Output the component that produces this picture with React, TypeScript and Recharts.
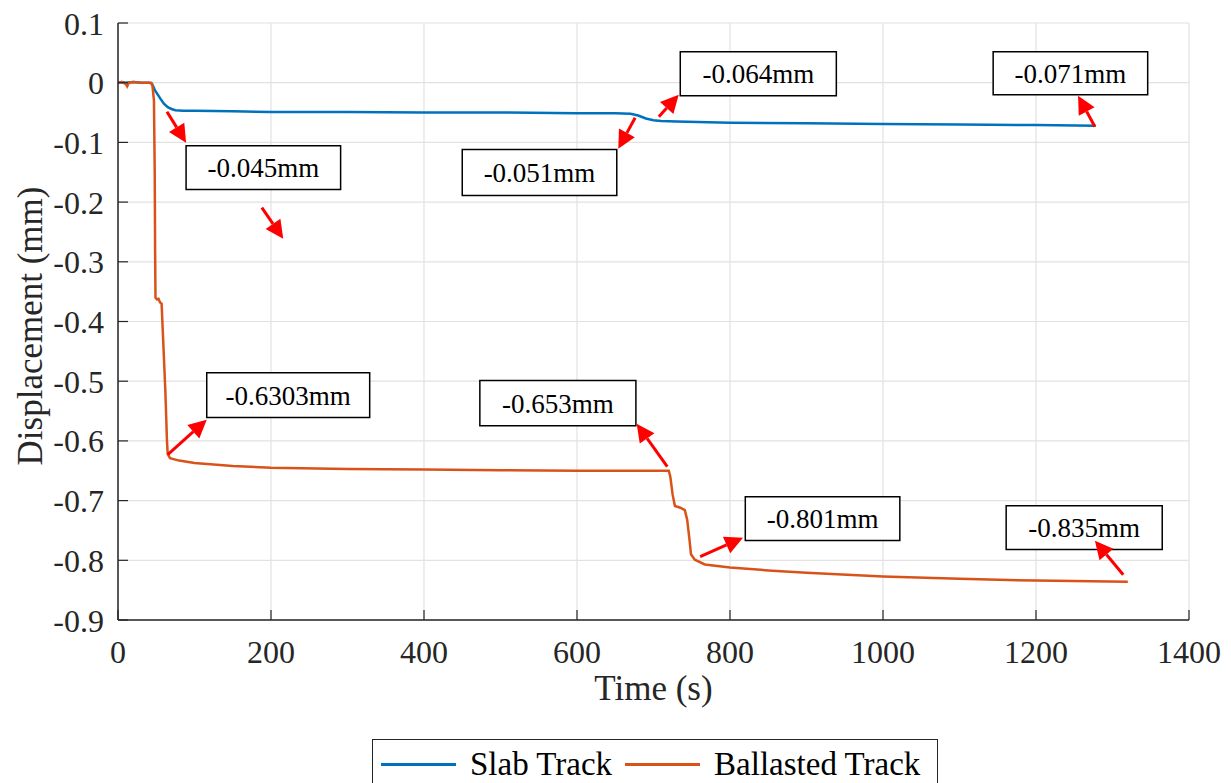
import {
  LineChart,
  Line,
  XAxis,
  YAxis,
  CartesianGrid,
  ReferenceArea,
  ReferenceLine,
  Legend,
} from 'recharts';

// time (s) and vertical displacement (mm)
const slabTime = [0, 5, 10, 20, 30, 40, 44, 46, 48, 52, 56, 60, 65, 70, 75, 85, 100, 150, 200, 300, 400, 500, 600, 650, 670, 680, 690, 700, 710, 730, 800, 900, 1000, 1100, 1200, 1278];
const slabDisp = [0, 0.001, 0, 0.001, 0, 0, -0.001, -0.006, -0.012, -0.02, -0.028, -0.035, -0.041, -0.044, -0.046, -0.047, -0.047, -0.048, -0.049, -0.049, -0.05, -0.05, -0.051, -0.051, -0.052, -0.055, -0.06, -0.063, -0.064, -0.065, -0.067, -0.068, -0.069, -0.07, -0.071, -0.072];

const ballastTime = [0, 5, 10, 12, 14, 20, 30, 43, 45, 47, 48, 48.5, 49, 51, 53, 55, 57, 58, 60, 62, 63, 64, 65, 68, 80, 100, 150, 200, 300, 400, 500, 600, 700, 720, 722, 725, 728, 735, 741, 744, 747, 749, 754, 767, 800, 850, 900, 1000, 1100, 1200, 1320];
const ballastDisp = [0, 0.001, -0.002, -0.006, 0, 0.001, 0, 0, -0.005, -0.03, -0.15, -0.28, -0.36, -0.363, -0.362, -0.368, -0.37, -0.4, -0.46, -0.52, -0.56, -0.6, -0.622, -0.629, -0.633, -0.637, -0.642, -0.645, -0.647, -0.648, -0.649, -0.65, -0.65, -0.65, -0.66, -0.69, -0.709, -0.712, -0.716, -0.732, -0.765, -0.79, -0.799, -0.807, -0.812, -0.817, -0.821, -0.827, -0.831, -0.834, -0.836];

const xTicks = [0, 200, 400, 600, 800, 1000, 1200, 1400];
const yTicks = [-0.9, -0.8, -0.7, -0.6, -0.5, -0.4, -0.3, -0.2, -0.1, 0, 0.1];

// annotation boxes: text, time range, displacement range
const noteText = ['-0.045mm', '-0.051mm', '-0.064mm', '-0.071mm', '-0.6303mm', '-0.653mm', '-0.801mm', '-0.835mm'];
const noteBox = [
  [89, 291, -0.1055, -0.179],
  [450, 652, -0.112, -0.189],
  [735, 939, 0.052, -0.022],
  [1144, 1346, 0.052, -0.02],
  [116, 329, -0.486, -0.561],
  [473, 677, -0.499, -0.5745],
  [820, 1022, -0.6935, -0.767],
  [1161, 1365, -0.7085, -0.782],
];
// arrows: tail (t, v) -> head (t, v)
const arrows = [
  [64, -0.0486, 89, -0.1005],
  [188, -0.2094, 216, -0.2613],
  [676, -0.0586, 654, -0.1106],
  [707, -0.057, 733, -0.0201],
  [1277, -0.0737, 1255, -0.0218],
  [65, -0.6231, 116, -0.5645],
  [718, -0.6432, 678, -0.5712],
  [761, -0.794, 817, -0.7621],
  [1314, -0.8241, 1277, -0.7672],
];

const slabData = slabTime.map((t, i) => ({ t, v: slabDisp[i] }));
const ballastData = ballastTime.map((t, i) => ({ t, v: ballastDisp[i] }));

const FONT = '"Liberation Serif", "Times New Roman", serif';
const AXIS = '#262626';
const fmtY = (v: number) => (Math.abs(v) < 1e-9 ? '0' : v.toFixed(1));

function LeftTick({ x, y, payload }: any) {
  return (
    <g>
      <line x1={x + 14} x2={x + 24} y1={y} y2={y} stroke={AXIS} strokeWidth={1.2} />
      <text x={x} y={y} dy="0.36em" textAnchor="end" fontSize={32} fontFamily={FONT} fill={AXIS}>
        {fmtY(payload.value)}
      </text>
    </g>
  );
}

function BottomTick({ x, y, payload }: any) {
  return (
    <g>
      <line x1={x} x2={x} y1={y - 20} y2={y - 30} stroke={AXIS} strokeWidth={1.2} />
      <text x={x} y={y} dy="0.71em" textAnchor="middle" fontSize={32} fontFamily={FONT} fill={AXIS}>
        {payload.value}
      </text>
    </g>
  );
}

function TopTick({ x, y }: any) {
  return <line x1={x} x2={x} y1={y} y2={y + 10} stroke={AXIS} strokeWidth={1.2} />;
}

function RightTick({ x, y }: any) {
  return <line x1={x} x2={x - 10} y1={y} y2={y} stroke={AXIS} strokeWidth={1.2} />;
}

function Arrow({ x1, y1, x2, y2 }: any) {
  const dx = x2 - x1;
  const dy = y2 - y1;
  const len = Math.hypot(dx, dy) || 1;
  const ux = dx / len;
  const uy = dy / len;
  const hl = 18;
  const hw = 9;
  const bx = x2 - ux * hl;
  const by = y2 - uy * hl;
  return (
    <g>
      <line x1={x1} y1={y1} x2={bx} y2={by} stroke="#ff0000" strokeWidth={3} />
      <polygon points={`${x2},${y2} ${bx - uy * hw},${by + ux * hw} ${bx + uy * hw},${by - ux * hw}`} fill="#ff0000" />
    </g>
  );
}

function renderLegend() {
  const item = (color: string, name: string) => (
    <div style={{ display: 'flex', alignItems: 'center' }}>
      <div style={{ width: 75, height: 0, borderTop: `3px solid ${color}`, marginRight: 14 }} />
      <span style={{ marginRight: 13 }}>{name}</span>
    </div>
  );
  return (
    <div
      style={{
        display: 'flex',
        alignItems: 'center',
        height: 50,
        boxSizing: 'border-box',
        border: `1.5px solid ${AXIS}`,
        background: '#fff',
        paddingLeft: 8,
        fontFamily: FONT,
        fontSize: 33,
        color: '#000',
        whiteSpace: 'nowrap',
      }}
    >
      {item('#0072BD', 'Slab Track')}
      {item('#D95319', 'Ballasted Track')}
    </div>
  );
}

export default function App() {
  return (
    <div style={{ position: 'absolute', left: 0, top: 0, width: 1231, height: 783, background: '#fff', overflow: 'hidden' }}>
      <LineChart width={1231} height={783} margin={{ top: 23, right: 42, bottom: 103, left: 18 }}>
        <CartesianGrid stroke="#e2e2e2" strokeWidth={1.2} horizontalValues={yTicks} verticalValues={xTicks} />
        <XAxis
          dataKey="t"
          type="number"
          domain={[0, 1400]}
          ticks={xTicks}
          allowDataOverflow
          height={60}
          tickSize={0}
          tickMargin={20}
          tickLine={false}
          tick={<BottomTick />}
          axisLine={{ stroke: AXIS, strokeWidth: 1.5 }}
          label={{
            content: ({ viewBox }: any) => (
              <text x={viewBox.x + viewBox.width / 2} y={700} textAnchor="middle" fontSize={35} fontFamily={FONT} fill={AXIS}>
                Time (s)
              </text>
            ),
          }}
        />
        <XAxis
          xAxisId="top"
          orientation="top"
          type="number"
          domain={[0, 1400]}
          ticks={xTicks}
          allowDataOverflow
          height={0}
          tickSize={0}
          tickMargin={0}
          tickLine={false}
          tick={<TopTick />}
          axisLine={{ stroke: AXIS, strokeWidth: 1.5 }}
        />
        <YAxis
          type="number"
          domain={[-0.9, 0.1]}
          ticks={yTicks}
          allowDataOverflow
          width={100}
          tickSize={0}
          tickMargin={14}
          tickLine={false}
          tick={<LeftTick />}
          axisLine={{ stroke: AXIS, strokeWidth: 1.5 }}
          label={{
            content: () => (
              <text
                x={30}
                y={326}
                transform="rotate(-90 30 326)"
                textAnchor="middle"
                dominantBaseline="central"
                fontSize={35}
                fontFamily={FONT}
                fill={AXIS}
              >
                Displacement (mm)
              </text>
            ),
          }}
        />
        <YAxis
          yAxisId="right"
          orientation="right"
          type="number"
          domain={[-0.9, 0.1]}
          ticks={yTicks}
          allowDataOverflow
          width={0}
          tickSize={0}
          tickMargin={0}
          tickLine={false}
          tick={<RightTick />}
          axisLine={{ stroke: AXIS, strokeWidth: 1.5 }}
        />
        <Line data={slabData} dataKey="v" name="Slab Track" stroke="#0072BD" strokeWidth={2.5} dot={false} isAnimationActive={false} />
        <Line data={ballastData} dataKey="v" name="Ballasted Track" stroke="#D95319" strokeWidth={2.5} dot={false} isAnimationActive={false} />
        {noteBox.map(([t1, t2, v1, v2], i) => (
          <ReferenceArea
            key={`box-${i}`}
            x1={t1}
            x2={t2}
            y1={v1}
            y2={v2}
            fill="#fff"
            fillOpacity={1}
            stroke="#000"
            strokeWidth={1.5}
            label={{ value: noteText[i], position: 'center', fontSize: 27, fontFamily: FONT, fill: '#000' }}
          />
        ))}
        {arrows.map(([ta, va, tb, vb], i) => (
          <ReferenceLine
            key={`arrow-${i}`}
            segment={[
              { x: ta, y: va },
              { x: tb, y: vb },
            ]}
            shape={<Arrow />}
          />
        ))}
        <Legend
          layout="vertical"
          align="center"
          verticalAlign="middle"
          wrapperStyle={{ left: 372, top: 739, width: 566 }}
          content={renderLegend}
        />
      </LineChart>
    </div>
  );
}
